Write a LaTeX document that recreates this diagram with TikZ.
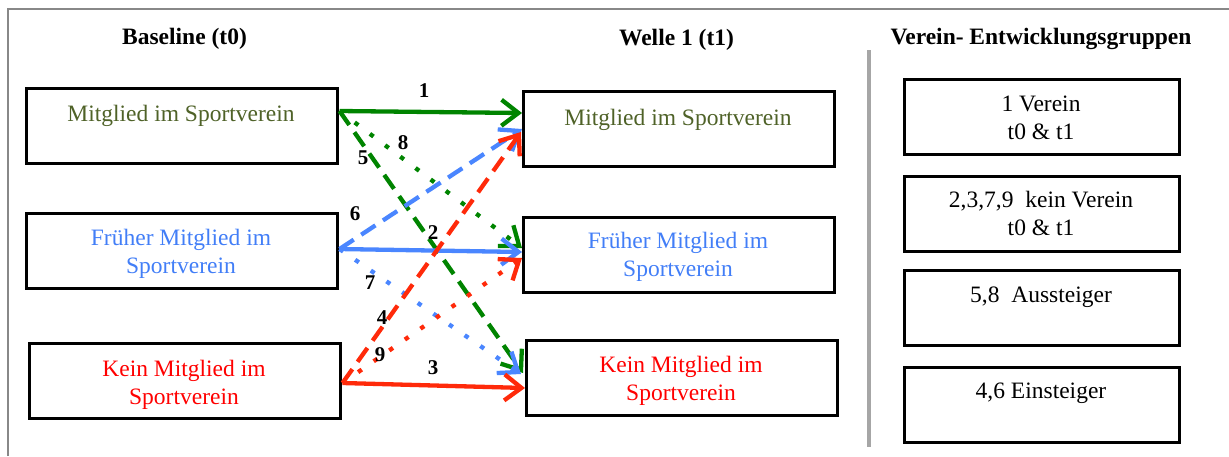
\documentclass[tikz,border=0pt]{standalone}
\usepackage{fontspec}
\setmainfont{Liberation Serif}
\usetikzlibrary{arrows.meta,calc}

\definecolor{txtolive}{RGB}{79,98,40}
\definecolor{txtblue}{RGB}{66,126,247}
\definecolor{txtred}{RGB}{255,0,0}
\definecolor{arrgreen}{RGB}{0,132,0}
\definecolor{arrblue}{RGB}{74,134,255}
\definecolor{arrred}{RGB}{255,42,10}
\definecolor{framegray}{RGB}{136,136,136}
\definecolor{sepgray}{RGB}{166,166,166}

\begin{document}
\begin{tikzpicture}[x=1pt,y=-1pt,
  box/.style={draw=black, line width=2.5pt, anchor=north west, inner sep=0pt,
              minimum width=311pt, minimum height=75pt},
  groupbox/.style={box, minimum width=275pt},
  txt/.style={font=\fontsize{23.5}{28}\selectfont, align=center, inner sep=0pt},
  head/.style={txt, font=\fontsize{23.5}{28}\selectfont\bfseries},
  num/.style={font=\fontsize{21}{24}\selectfont\bfseries, inner sep=0pt},
  flow/.style={line width=4.3pt, -{Straight Barb[length=17pt,width=26pt]}},
  solidflow/.style={flow},
  dashflow/.style={flow, dash pattern=on 17pt off 9pt},
  dotflow/.style={flow, dash pattern=on 4.5pt off 14.5pt}
]
\useasboundingbox (0,0) rectangle (1229,456);

% outer frame (left and top edges)
\draw[framegray, line width=2pt] (8,456) -- (8,8.5) -- (1229,8.5);

% column headings
\node[head] (h0) at (184.5,38.4) {\strut Baseline (t0)};
\node[head] (h1) at (676.5,39.4) {\strut Welle 1 (t1)};
\node[head] (h2) at (1041,38.4) {\strut Verein- Entwicklungsgruppen};

% separator
\draw[sepgray, line width=4pt] (869,50) -- (869,447);

% baseline states
\node[box] (A) at (25,87) {};
\node[box] (B) at (25,212) {};
\node[box] (C) at (28,342) {};
\node[txt, text=txtolive] (At) at (181,115.4) {\strut Mitglied im Sportverein};
\node[txt, text=txtblue]  (Bt) at (181,253.4) {\strut Früher Mitglied im\\\strut Sportverein};
\node[txt, text=txtred]   (Ct) at (184,384.4) {\strut Kein Mitglied im\\\strut Sportverein};

% wave 1 states
\node[box] (D) at (522,90) {};
\node[box] (E) at (522,216) {};
\node[box] (F) at (525,339) {};
\node[txt, text=txtolive] (Dt) at (678,119.4) {\strut Mitglied im Sportverein};
\node[txt, text=txtblue]  (Et) at (678,256.9) {\strut Früher Mitglied im\\\strut Sportverein};
\node[txt, text=txtred]   (Ft) at (681,380.4) {\strut Kein Mitglied im\\\strut Sportverein};

% development groups
\node[groupbox] (G1) at (903,78) {};
\node[groupbox] (G2) at (903,175) {};
\node[groupbox] (G3) at (903,269) {};
\node[groupbox] (G4) at (903,366) {};
\node[txt] (G1t) at (1041,119.4) {\strut 1 Verein\\\strut t0 \& t1};
\node[txt] (G2t) at (1041,215.4) {\strut 2,3,7,9\ \ kein Verein\\\strut t0 \& t1};
\node[txt] (G3t) at (1041,296.4) {\strut 5,8\ \ Aussteiger};
\node[txt] (G4t) at (1041,392.4) {\strut 4,6 Einsteiger};

% anchor points on the box edges
\coordinate (aS) at ($(A.north east)+(1,24)$);
\coordinate (bS) at ($(B.north east)+(1,37)$);
\coordinate (cS) at ($(C.north east)+(1,41)$);

% transitions from "Mitglied"
\draw[solidflow, arrgreen] (aS) -- ($(D.north west)+(0,23)$);
\draw[dotflow, arrgreen] (aS) -- ($(E.north west)+(0,32)$);
\draw[dashflow, arrgreen] (aS) -- ($(F.north west)+(-2,34)$);

% transitions from "Früher Mitglied"
\draw[dashflow, arrblue] (bS) -- ($(D.north west)+(0,39)$);
\draw[solidflow, arrblue] (bS) -- ($(E.north west)+(0,36)$);
\draw[dotflow, arrblue] (bS) -- ($(F.north west)+(-4,35)$);

% transitions from "Kein Mitglied"
\draw[dashflow, arrred] (cS) -- ($(D.north west)+(-1,42)$);
\draw[dotflow, arrred] (cS) -- ($(E.north west)+(0,42)$);
\draw[solidflow, arrred] (cS) -- ($(F.north west)+(0,49)$);

% transition numbers
\node[num] (n1) at (424,91) {1};
\node[num] (n2) at (433,233) {2};
\node[num] (n3) at (433,368) {3};
\node[num] (n4) at (382,318) {4};
\node[num] (n5) at (363,158) {5};
\node[num] (n6) at (355,214) {6};
\node[num] (n7) at (370,283) {7};
\node[num] (n8) at (403,143) {8};
\node[num] (n9) at (380,355) {9};
\end{tikzpicture}
\end{document}
